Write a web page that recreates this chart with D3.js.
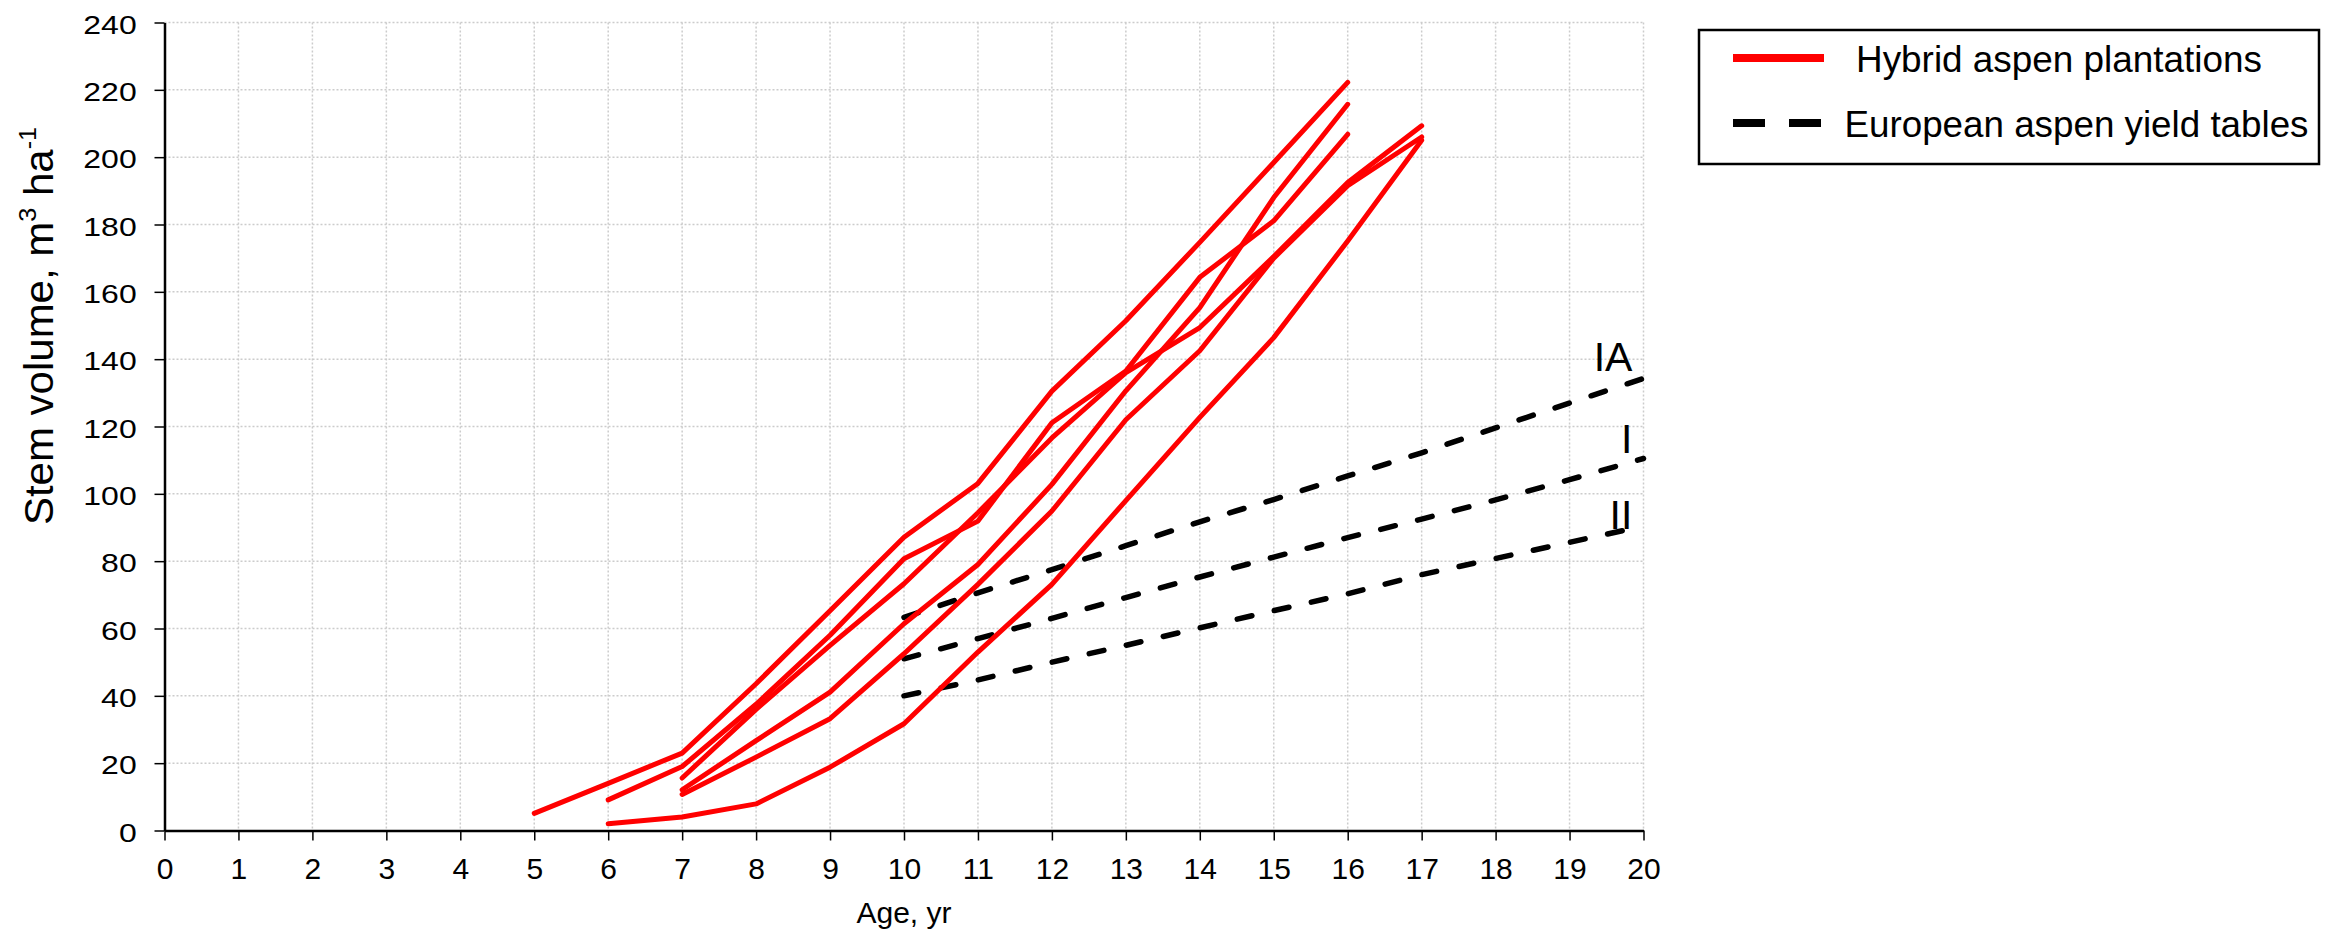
<!DOCTYPE html>
<html>
<head>
<meta charset="utf-8">
<script src="https://cdn.jsdelivr.net/npm/d3@7"></script>
<style>
  body { margin: 0; background: #fff; }
  svg { font-family: "Liberation Sans", Arial, sans-serif; display: block; }
</style>
</head>
<body>
<svg id="chart" width="2343" height="932"></svg>
<script>
// Hybrid aspen plantations: each line starts at its own age, one value per year
const plantStartAge = [5, 6, 7, 7, 7, 6];
const plantA = [5.1, 14, 23, 43.6, 65.3, 87.1, 103.1, 130.5, 151.4, 174.7, 198.4, 222.2];
const plantB = [9.1, 19, 37.5, 58, 80.7, 91.9, 121.1, 136.5, 164.3, 181.1, 206.8];
const plantC = [15.6, 36, 55, 73.3, 94.4, 116.6, 136, 149.4, 170.5, 192.5, 209.3];
const plantD = [12.1, 26.7, 41.1, 61.4, 79, 102.8, 130.6, 155.3, 188, 215.7];
const plantE = [10.7, 21.8, 33.2, 52.5, 73.1, 94.9, 122, 142.5, 170, 191.5, 206];
const plantF = [2.0, 4.0, 7.9, 18.8, 31.7, 53, 73.1, 98, 122.7, 146.4, 175.1, 205];
const plantSeries = [plantA, plantB, plantC, plantD, plantE, plantF];

// European aspen yield tables (site classes), ages 10..20
const yieldAges = [10, 11, 12, 13, 14, 15, 16, 17, 18, 19, 20];
const yieldIA = [63.3, 70.6, 77.5, 84.6, 91.7, 98.3, 105.3, 112.2, 119.6, 127, 134.3];
const yieldI  = [51, 57, 63, 69.2, 75.3, 81.2, 87, 92.5, 98.2, 104.2, 110.5];
const yieldII = [40, 44.7, 50, 55, 60.2, 65.3, 70.3, 76, 80.8, 85.6, 90.4];
const yieldLabels = ["IA", "I", "II"];

const xTicks = d3.range(0, 21, 1);
const yTicks = d3.range(0, 241, 20);
const legendLabels = ["Hybrid aspen plantations", "European aspen yield tables"];

const svg = d3.select("#chart");
svg.append("rect").attr("width", 2343).attr("height", 932).attr("fill", "#fff");

const plotLeft = 164.5, plotRight = 1643.5, plotTop = 22.5, plotBottom = 830.5;
const x = d3.scaleLinear().domain([0, 20]).range([plotLeft, plotRight]);
const y = d3.scaleLinear().domain([0, 240]).range([plotBottom, plotTop]);

// grid
const grid = svg.append("g")
    .attr("stroke", "#cccccc")
    .attr("stroke-width", 1.5)
    .attr("stroke-dasharray", "2,2");
grid.selectAll("line.h").data(yTicks.filter(d => d > 0)).join("line")
    .attr("class", "h")
    .attr("x1", plotLeft).attr("x2", plotRight)
    .attr("y1", d => y(d)).attr("y2", d => y(d));
grid.selectAll("line.v").data(xTicks.filter(d => d > 0)).join("line")
    .attr("class", "v")
    .attr("y1", plotTop).attr("y2", plotBottom)
    .attr("x1", d => x(d)).attr("x2", d => x(d));

// axes
const xAxis = svg.append("g")
    .attr("transform", `translate(0,${plotBottom})`)
    .call(d3.axisBottom(x).tickValues(xTicks).tickSize(10).tickSizeOuter(0));
xAxis.select(".domain").attr("stroke", "#000").attr("stroke-width", 2.5);
xAxis.selectAll(".tick line").attr("stroke", "#000").attr("stroke-width", 1.5);
xAxis.selectAll(".tick text")
    .attr("y", 48.5).attr("dy", 0)
    .attr("font-size", 30).attr("fill", "#000")
    .attr("font-family", "Liberation Sans, Arial, sans-serif");

const yAxis = svg.append("g")
    .attr("transform", `translate(${plotLeft},0)`)
    .call(d3.axisLeft(y).tickValues(yTicks).tickSize(10).tickSizeOuter(0));
yAxis.select(".domain").attr("stroke", "#000").attr("stroke-width", 2.5);
yAxis.selectAll(".tick line").attr("stroke", "#000").attr("stroke-width", 1.5);
yAxis.selectAll(".tick text")
    .attr("x", null).attr("dy", 0)
    .attr("transform", "translate(-27.8,10.5) scale(1.28,1)")
    .attr("text-anchor", "end")
    .attr("font-size", 25).attr("fill", "#000")
    .attr("font-family", "Liberation Sans, Arial, sans-serif");

// axis titles
svg.append("text")
    .attr("x", (plotLeft + plotRight) / 2).attr("y", 923)
    .attr("text-anchor", "middle")
    .attr("font-size", 30)
    .text("Age, yr");

const yTitle = svg.append("text")
    .attr("transform", "translate(53,326) rotate(-90) scale(1.05,1)")
    .attr("text-anchor", "middle")
    .attr("font-size", 40);
yTitle.append("tspan").text("Stem volume, m");
yTitle.append("tspan").attr("font-size", 24).attr("dy", -17).text("3");
yTitle.append("tspan").attr("dy", 17).text(" ha");
yTitle.append("tspan").attr("font-size", 24).attr("dy", -17).text("-1");

// lines
const line = d3.line().x(d => x(d[0])).y(d => y(d[1]));

const yieldSeries = [yieldIA, yieldI, yieldII];
svg.append("g").selectAll("path").data(yieldSeries).join("path")
    .attr("d", s => line(s.map((v, i) => [yieldAges[i], v])))
    .attr("fill", "none")
    .attr("stroke", "#000")
    .attr("stroke-width", 5.5)
    .attr("stroke-dasharray", "15,23")
    .attr("stroke-linecap", "round");

svg.append("g").selectAll("path").data(plantSeries).join("path")
    .attr("d", (s, k) => line(s.map((v, i) => [plantStartAge[k] + i, v])))
    .attr("fill", "none")
    .attr("stroke", "#ff0000")
    .attr("stroke-width", 5)
    .attr("stroke-linejoin", "round")
    .attr("stroke-linecap", "round");

// class labels next to the ends of the yield lines
const labelShift = [-7.5, -5, 2.5];
svg.append("g").selectAll("text").data(yieldSeries).join("text")
    .attr("x", x(19.85))
    .attr("y", (s, i) => y(s[s.length - 1]) + labelShift[i])
    .attr("text-anchor", "end")
    .attr("font-size", 41)
    .text((s, i) => yieldLabels[i]);

// legend
const legend = svg.append("g");
legend.append("rect")
    .attr("x", 1699).attr("y", 30).attr("width", 620).attr("height", 134)
    .attr("fill", "#fff").attr("stroke", "#000").attr("stroke-width", 2.5);
legend.append("line")
    .attr("x1", 1733).attr("x2", 1824).attr("y1", 58).attr("y2", 58)
    .attr("stroke", "#ff0000").attr("stroke-width", 8);
legend.append("line")
    .attr("x1", 1733).attr("x2", 1822).attr("y1", 123).attr("y2", 123)
    .attr("stroke", "#000").attr("stroke-width", 8)
    .attr("stroke-dasharray", "32,24");
legend.append("text")
    .attr("x", 1856).attr("y", 71.7)
    .attr("font-size", 36)
    .attr("textLength", 406).attr("lengthAdjust", "spacingAndGlyphs")
    .text(legendLabels[0]);
legend.append("text")
    .attr("x", 1844.5).attr("y", 136.7)
    .attr("font-size", 36)
    .attr("textLength", 464).attr("lengthAdjust", "spacingAndGlyphs")
    .text(legendLabels[1]);
</script>
</body>
</html>
